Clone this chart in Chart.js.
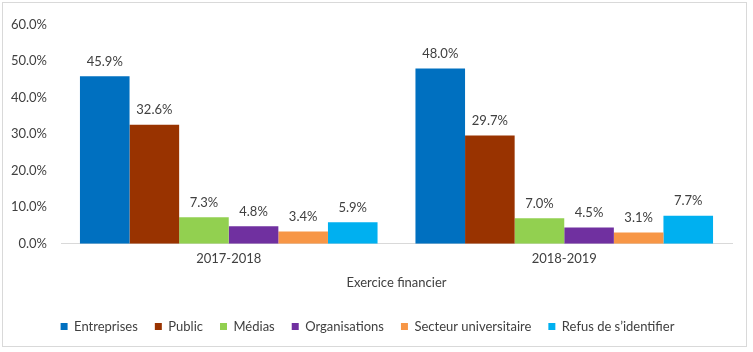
<!DOCTYPE html>
<html>
<head>
<meta charset="utf-8">
<script src="https://cdn.jsdelivr.net/npm/chart.js@4/dist/chart.umd.min.js"></script>
<style>
  html, body { margin: 0; padding: 0; background: #fff; }
  #frame {
    position: absolute; left: 2px; top: 2px;
    width: 745px; height: 345px;
    border: 1px solid #d9d9d9; box-sizing: border-box;
  }
  #wrap { position: absolute; left: 0; top: 0; width: 743px; height: 343px; }
</style>
</head>
<body>
<div id="frame"><div id="wrap"><canvas id="chart"></canvas></div></div>
<script>
const categories = ["2017-2018", "2018-2019"];
const seriesNames = ["Entreprises", "Public", "Médias", "Organisations", "Secteur universitaire", "Refus de s\u2019identifier"];
const seriesColors = ["#0070C0", "#993300", "#92D050", "#7030A0", "#F79646", "#00B0F0"];
const entreprises = [45.9, 48.0];
const publicVals = [32.6, 29.7];
const medias = [7.3, 7.0];
const organisations = [4.8, 4.5];
const universitaire = [3.4, 3.1];
const refus = [5.9, 7.7];
const yTicks = [0, 10, 20, 30, 40, 50, 60];

const seriesValues = [entreprises, publicVals, medias, organisations, universitaire, refus];
const fontFamily = "Lato, 'Open Sans', sans-serif";
const textColor = "#404040";

// draws the value labels above each bar
const valueLabels = {
    id: "valueLabels",
    afterDatasetsDraw(chart) {
        const ctx = chart.ctx;
        ctx.save();
        ctx.font = "13px " + fontFamily;
        ctx.fillStyle = textColor;
        ctx.textAlign = "center";
        ctx.textBaseline = "bottom";
        chart.data.datasets.forEach((ds, i) => {
            chart.getDatasetMeta(i).data.forEach((bar, j) => {
                ctx.fillText(ds.data[j].toFixed(1) + "%", bar.x, bar.y - 8);
            });
        });
        ctx.restore();
    },
};

new Chart(document.getElementById("chart"), {
    type: "bar",
    data: {
        labels: categories,
        datasets: seriesNames.map((name, i) => ({
            label: name,
            data: seriesValues[i],
            backgroundColor: seriesColors[i],
            borderWidth: 0,
            barPercentage: 1,
            categoryPercentage: 0.887,
        })),
    },
    options: {
        responsive: true,
        maintainAspectRatio: false,
        animation: false,
        layout: { padding: { top: 4, right: 14, bottom: 3, left: 0 } },
        scales: {
            x: {
                grid: { display: false, drawTicks: false },
                border: { color: "#d9d9d9" },
                ticks: { color: textColor, font: { family: fontFamily, size: 13 }, padding: 7 },
                title: {
                    display: true, text: "Exercice financier", color: textColor,
                    font: { family: fontFamily, size: 13 }, padding: { top: 2, bottom: 12 },
                },
            },
            y: {
                min: 0, max: 60,
                afterFit(scale) { scale.width = 58; },
                afterBuildTicks(scale) { scale.ticks = yTicks.map(v => ({ value: v })); },
                grid: { display: false, drawTicks: false },
                border: { display: false },
                ticks: {
                    color: textColor, font: { family: fontFamily, size: 13 }, padding: 14,
                    callback: v => v.toFixed(1) + "%",
                },
            },
        },
        plugins: {
            legend: {
                position: "bottom",
                labels: {
                    boxWidth: 7, boxHeight: 7, padding: 17, color: textColor,
                    font: { family: fontFamily, size: 13 },
                },
            },
            tooltip: { enabled: false },
        },
    },
    plugins: [valueLabels],
});
</script>
</body>
</html>
